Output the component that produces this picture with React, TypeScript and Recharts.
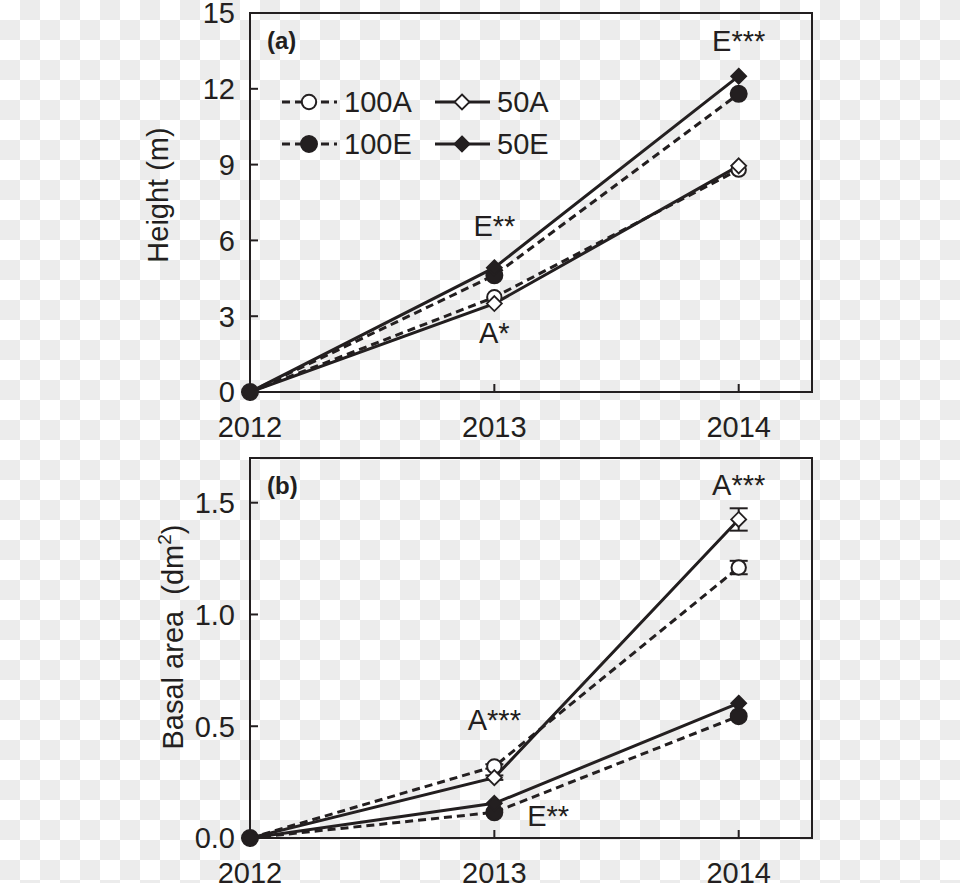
import { LineChart, Line, XAxis, YAxis, ReferenceArea, ReferenceDot, ErrorBar } from 'recharts'

const years = [2012, 2013, 2014]
const heightTicks = [0, 3, 6, 9, 12, 15]
const basalTicks = [0, 0.5, 1.0, 1.5]

// panel (a) height, m
const height100A = [0, 3.75, 8.8]
const height50A = [0, 3.5, 8.95]
const height100E = [0, 4.62, 11.8]
const height50E = [0, 4.92, 12.5]

// panel (b) basal area, dm2
const basal100A = [0, 0.32, 1.21]
const basal50A = [0, 0.27, 1.425]
const basal100E = [0, 0.115, 0.545]
const basal50E = [0, 0.155, 0.603]
const basal100AErr = [0, 0.01, 0.03]
const basal50AErr = [0, 0.01, 0.05]

// significance notes: [year, value, text]
const heightNotes: [number, number, string][] = [
  [2014, 13.9, 'E***'],
  [2013, 6.6, 'E**'],
  [2013.0, 2.35, 'A*'],
]
const basalNotes: [number, number, string][] = [
  [2014, 1.58, 'A***'],
  [2013, 0.53, 'A***'],
  [2013.22, 0.1, 'E**'],
]

const INK = '#231f20'
const FONT = '"Liberation Sans", Arial, Helvetica, sans-serif'

const SERIES = [
  { key: 's100A', name: '100A', dashed: true, shape: 'circle', filled: false },
  { key: 's50A', name: '50A', dashed: false, shape: 'diamond', filled: false },
  { key: 's100E', name: '100E', dashed: true, shape: 'circle', filled: true },
  { key: 's50E', name: '50E', dashed: false, shape: 'diamond', filled: true },
]

const heightRows = years.map((year, i) => ({
  year,
  s100A: height100A[i],
  s50A: height50A[i],
  s100E: height100E[i],
  s50E: height50E[i],
}))

const basalRows = years.map((year, i) => ({
  year,
  s100A: basal100A[i],
  s50A: basal50A[i],
  s100E: basal100E[i],
  s50E: basal50E[i],
  e100A: basal100AErr[i],
  e50A: basal50AErr[i],
}))

function Marker({ cx, cy, shape, filled }: any) {
  const fill = filled ? INK : '#fff'
  if (shape === 'circle') {
    return <circle cx={cx} cy={cy} r={filled ? 8 : 7.2} fill={fill} stroke={INK} strokeWidth={2} />
  }
  const s = 7.5
  return (
    <polygon
      points={`${cx},${cy - s} ${cx + s},${cy} ${cx},${cy + s} ${cx - s},${cy}`}
      fill={fill}
      stroke={INK}
      strokeWidth={1.8}
    />
  )
}

function YTick({ x, y, payload, digits }: any) {
  const label = digits ? Number(payload.value).toFixed(digits) : String(payload.value)
  return (
    <g>
      <line x1={x} x2={x + 8} y1={y} y2={y} stroke={INK} strokeWidth={2} />
      <text x={x - 15} y={y} dy="0.36em" textAnchor="end" fontSize={29} fontFamily={FONT} fill={INK}>
        {label}
      </text>
    </g>
  )
}

function XTick({ x, y, payload }: any) {
  return (
    <g>
      <line x1={x} x2={x} y1={y} y2={y - 8} stroke={INK} strokeWidth={2} />
      <text x={x} y={y + 45} textAnchor="middle" fontSize={29} fontFamily={FONT} fill={INK}>
        {payload.value}
      </text>
    </g>
  )
}

function LegendBox() {
  const col = [0, 153]
  const row = [22, 64]
  return (
    <svg width={300} height={86} style={{ position: 'absolute', left: 270, top: 80 }}>
      {SERIES.map((s, i) => {
        const x0 = col[i % 2]
        const y = row[Math.floor(i / 2)]
        return (
          <g key={s.key}>
            <line
              x1={x0 + 12}
              x2={x0 + 67}
              y1={y}
              y2={y}
              stroke={INK}
              strokeWidth={3}
              strokeDasharray={s.dashed ? '8 5' : undefined}
            />
            <Marker cx={x0 + 39} cy={y} shape={s.shape} filled={s.filled} />
            <text x={x0 + 74} y={y} dy="0.36em" fontSize={29} fontFamily={FONT} fill={INK}>
              {s.name}
            </text>
          </g>
        )
      })}
    </svg>
  )
}

function Note({ cx, cy, text }: any) {
  return (
    <text x={cx} y={cy} dy="0.36em" textAnchor="middle" fontSize={29} fontFamily={FONT} fill={INK}>
      {text}
    </text>
  )
}

function Panel({ rows, height, plotHeight, top, yMax, ticks, digits, tag, title, notes, legend }: any) {
  return (
    <div style={{ position: 'absolute', left: 0, top }}>
      <LineChart width={960} height={height} data={rows} margin={{ top: 13, right: 148, bottom: 0, left: 0 }}>
        <XAxis
          dataKey="year"
          type="number"
          domain={[2012, 2014.3]}
          ticks={years}
          height={height - 13 - plotHeight}
          axisLine={{ stroke: INK, strokeWidth: 2 }}
          tickLine={false}
          tickSize={0}
          tickMargin={0}
          tick={<XTick />}
          interval={0}
        />
        <YAxis
          type="number"
          domain={[0, yMax]}
          ticks={ticks}
          width={250}
          axisLine={{ stroke: INK, strokeWidth: 2 }}
          tickLine={false}
          tickSize={0}
          tickMargin={0}
          tick={<YTick digits={digits} />}
          interval={0}
          label={{ content: () => title }}
        />
        <ReferenceArea
          x1={2012}
          x2={2014.3}
          y1={0}
          y2={yMax}
          fill="none"
          stroke={INK}
          strokeWidth={2}
          ifOverflow="visible"
        />
        {SERIES.map((s) => (
          <Line
            key={s.key}
            dataKey={s.key}
            isAnimationActive={false}
            stroke={INK}
            strokeWidth={3}
            strokeDasharray={s.dashed ? '8 5' : undefined}
            dot={(p: any) => <Marker key={`${s.key}-${p.index}`} cx={p.cx} cy={p.cy} shape={s.shape} filled={s.filled} />}
            activeDot={false}
          >
            {rows[0].e100A !== undefined && (s.key === 's100A' || s.key === 's50A') && (
              <ErrorBar
                dataKey={s.key === 's100A' ? 'e100A' : 'e50A'}
                direction="y"
                width={9}
                strokeWidth={2}
                stroke={INK}
                isAnimationActive={false}
              />
            )}
          </Line>
        ))}
        {notes.map(([x, y, text]: [number, number, string]) => (
          <ReferenceDot
            key={text + x}
            x={x}
            y={y}
            r={0}
            ifOverflow="visible"
            shape={(p: any) => <Note cx={p.cx} cy={p.cy} text={text} />}
          />
        ))}
      </LineChart>
      {legend && <LegendBox />}
      <div
        style={{
          position: 'absolute',
          left: 267,
          top: 27,
          fontFamily: FONT,
          fontWeight: 'bold',
          fontSize: 24,
          color: INK,
          lineHeight: '28px',
        }}
      >
        {tag}
      </div>
    </div>
  )
}

export default function App() {
  return (
    <div
      style={{
        position: 'absolute',
        left: 0,
        top: 0,
        width: 960,
        height: 883,
        overflow: 'hidden',
        background: 'repeating-conic-gradient(#ececec 0 25%, #ffffff 0 50%) 0 0 / 40px 40px',
      }}
    >
      <Panel
        rows={heightRows}
        height={445}
        plotHeight={379}
        top={0}
        yMax={15}
        ticks={heightTicks}
        digits={0}
        tag="(a)"
        notes={heightNotes}
        legend
        title={
          <text transform="translate(168,195) rotate(-90)" textAnchor="middle" fontSize={29} fontFamily={FONT} fill={INK}>
            Height (m)
          </text>
        }
      />
      <Panel
        rows={basalRows}
        height={438}
        plotHeight={380}
        top={445}
        yMax={1.7}
        ticks={basalTicks}
        digits={1}
        tag="(b)"
        notes={basalNotes}
        title={
          <text transform="translate(183,192) rotate(-90)" textAnchor="middle" fontSize={29} fontFamily={FONT} fill={INK}>
            Basal area{'\u00a0\u00a0'}(dm
            <tspan dy={-12} fontSize={19}>2</tspan>
            <tspan dy={12}>)</tspan>
          </text>
        }
      />
    </div>
  )
}
